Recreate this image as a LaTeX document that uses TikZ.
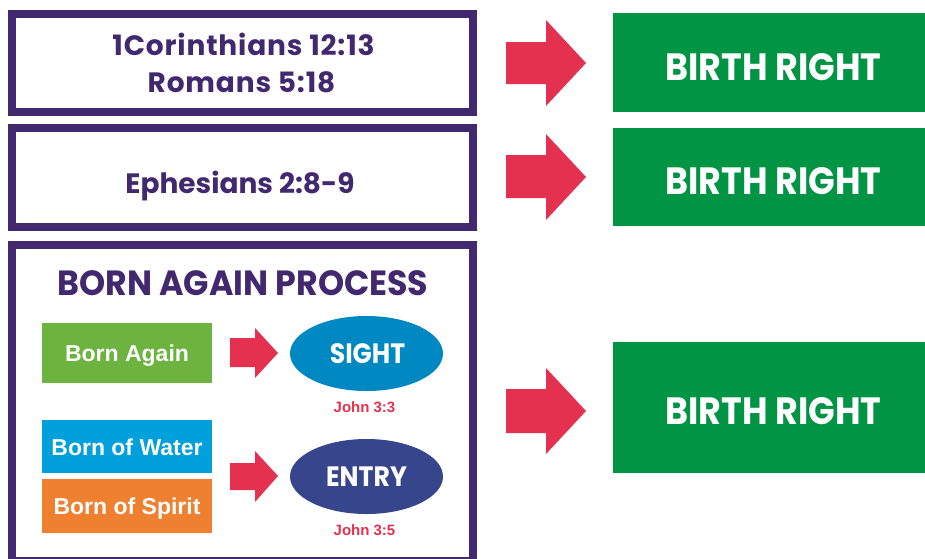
\documentclass[tikz,border=0pt]{standalone}
\usepackage{fontspec}
\newfontfamily\futw[LetterSpace=3]{Poppins}
\newfontfamily\fut{Poppins}
\newfontfamily\futc[FakeStretch=0.92]{Poppins}
\newfontfamily\futt[FakeStretch=0.95]{Poppins}
\newfontfamily\futo[FakeStretch=0.9]{Poppins}
\newfontfamily\ari{Liberation Sans}
\usetikzlibrary{shapes.geometric}
\definecolor{purp}{HTML}{41286F}
\definecolor{redA}{HTML}{E4314F}
\definecolor{greenB}{HTML}{009444}
\definecolor{greenL}{HTML}{6DB33F}
\definecolor{cyanB}{HTML}{00A0DC}
\definecolor{orangeB}{HTML}{EF8030}
\definecolor{sightB}{HTML}{0088C2}
\definecolor{entryB}{HTML}{37468C}
\tikzset{
  frame/.style={draw=purp, line width=8pt, fill=white, minimum width=461pt, inner sep=0pt},
  brbox/.style={fill=greenB, minimum width=320pt, inner sep=0pt},
  brtext/.style={text=white, font=\futc\bfseries\fontsize{38}{38}\selectfont, anchor=base, inner sep=0pt},
  reftext/.style={text=purp, font=\futw\bfseries\fontsize{28}{28}\selectfont, anchor=base, inner sep=0pt},
  smallbox/.style={minimum width=170pt, inner sep=0pt},
  smalltext/.style={text=white, font=\ari\bfseries\fontsize{23}{23}\selectfont, anchor=base, inner sep=0pt},
  oval/.style={ellipse, minimum width=153pt, minimum height=75pt, inner sep=0pt},
  ovaltext/.style={text=white, font=\futo\bfseries\fontsize{28}{28}\selectfont, anchor=base, inner sep=0pt},
  johntext/.style={text=redA, font=\ari\bfseries\fontsize{15}{15}\selectfont, anchor=base, inner sep=0pt},
  redarrow/.style={fill=redA},
}
\begin{document}
\begin{tikzpicture}[x=1pt,y=-1pt]
\useasboundingbox (0,0) rectangle (925,558);
\fill[white] (0,0) rectangle (925,558);
% left frames
\node[frame, minimum height=98pt] (f1) at (242,62.5) {};
\node[frame, minimum height=98.5pt] (f2) at (242,177.25) {};
\node[frame, minimum height=316.5pt] (f3) at (242.5,402.75) {};
\node[reftext] (t1) at (243.5,55) {1Corinthians 12:13};
\node[reftext] (t2) at (241.5,92) {Romans 5:18};
\node[reftext, font=\fut\bfseries\fontsize{28}{28}\selectfont] (t3) at (240,193) {Ephesians 2:8-9};
% right boxes
\node[brbox, minimum height=99pt] (b1) at (773,62.5) {};
\node[brbox, minimum height=98pt] (b2) at (773,177) {};
\node[brbox, minimum height=131pt] (b3) at (773,407.5) {};
\node[brtext] (bt1) at (773.5,80) {BIRTH RIGHT};
\node[brtext] (bt2) at (773.5,194) {BIRTH RIGHT};
\node[brtext] (bt3) at (773.5,424) {BIRTH RIGHT};
% big arrows
\fill[redarrow] (506,42) -- (546,42) -- (546,20) -- (586,63) -- (546,106) -- (546,84) -- (506,84) -- cycle;
\fill[redarrow] (506,155) -- (546,155) -- (546,134) -- (586,177) -- (546,220) -- (546,198) -- (506,198) -- cycle;
\fill[redarrow] (506,389) -- (546,389) -- (546,368) -- (586,411) -- (546,454) -- (546,433) -- (506,433) -- cycle;
% born again process
\node[text=purp, font=\futt\bfseries\fontsize{35}{35}\selectfont, anchor=base, inner sep=0pt] (title) at (243,295) {BORN AGAIN PROCESS};
\node[smallbox, fill=greenL, minimum height=60pt] (ba) at (127,353) {};
\node[smallbox, fill=cyanB, minimum height=53pt] (bw) at (127,446.5) {};
\node[smallbox, fill=orangeB, minimum height=54pt] (bs) at (127,506) {};
\node[smalltext] (bat) at (127,361) {Born Again};
\node[smalltext] (bwt) at (127,455) {Born of Water};
\node[smalltext] (bst) at (127,514) {Born of Spirit};
\fill[redarrow] (230,338) -- (255,338) -- (255,328) -- (278,353) -- (255,378) -- (255,367) -- (230,367) -- cycle;
\fill[redarrow] (230,463) -- (255,463) -- (255,451) -- (278,476) -- (255,502) -- (255,490) -- (230,490) -- cycle;
\node[oval, fill=sightB] (sight) at (366.5,353.5) {};
\node[oval, fill=entryB] (entry) at (366.5,476.5) {};
\node[ovaltext] (st) at (367.5,363) {SIGHT};
\node[ovaltext] (et) at (366.5,486) {ENTRY};
\node[johntext] (j1) at (364.5,412) {John 3:3};
\node[johntext] (j2) at (364.5,535) {John 3:5};
\end{tikzpicture}
\end{document}
